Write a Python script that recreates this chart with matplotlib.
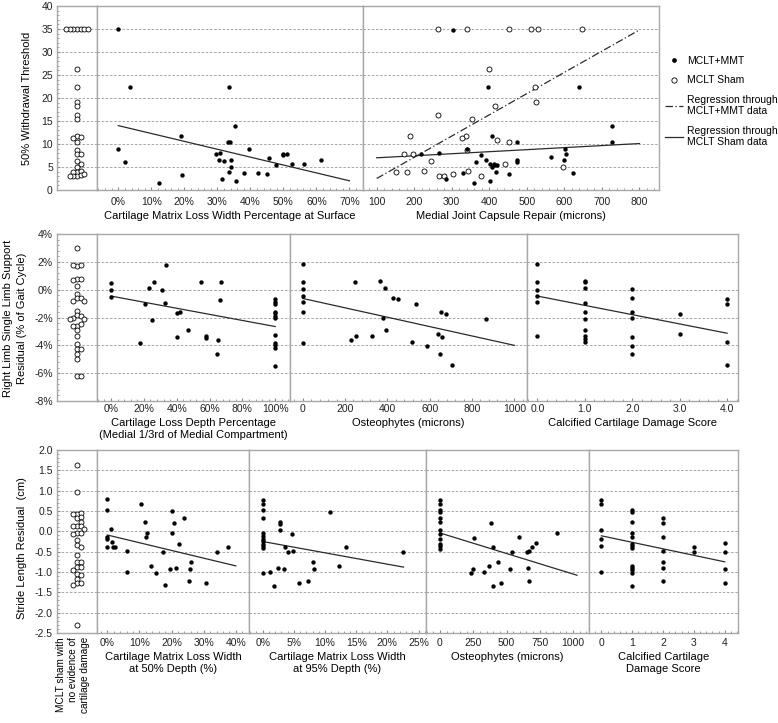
import matplotlib
matplotlib.use('Agg')
import matplotlib.pyplot as plt
from matplotlib.lines import Line2D
from matplotlib.ticker import FuncFormatter, MultipleLocator, AutoMinorLocator

plt.rcParams['font.family'] = ['Liberation Sans', 'DejaVu Sans']
plt.rcParams['font.size'] = 7.5

W, H = 778, 723

# ---------------- data: 50% withdrawal threshold ----------------
wd_sham = [35, 35, 35, 35, 35, 35, 35, 26.3, 22.4, 19.1, 18.3, 16.4, 15.4, 11.7, 11.6,
           11.3, 10.5, 8.6, 7.8, 7.8, 6.2, 5.6, 5.1, 4.0, 4.2, 4.0, 3.0, 3.3, 3.5, 3.1, 3.0]

surf_x = [0, 3.5, 33.6, 35.3, 18.9, 33.1, 33.9, 0, 39.5, 1.9, 29.7, 30.7, 30.5, 31.9, 34.0, 34.2,
          33.6, 31.5, 35.7, 38.2, 42.2, 45.0, 45.6, 47.9, 50.0, 50.0, 51.0, 52.6, 56.3, 61.5, 12.2, 19.4]
surf_y = [35, 22.4, 22.4, 14.0, 11.7, 10.5, 10.5, 9.0, 9.0, 6.0, 7.8, 8.0, 6.6, 6.2, 6.6, 5.1,
          3.9, 2.4, 2.0, 3.8, 3.8, 3.5, 7.0, 5.4, 7.8, 7.6, 7.8, 5.6, 5.6, 6.6, 1.5, 3.2]
surf_fit_x = [0, 70]
surf_fit_y = [14.0, 2.0]

cap_mmt_x = [302, 396, 640, 727, 727, 406, 475, 340, 219, 266, 377, 365, 390, 402, 412, 415,
             421, 408, 475, 475, 564, 601, 603, 599, 624, 453, 418, 331, 284, 358, 402]
cap_mmt_y = [34.8, 22.4, 22.4, 14.0, 10.5, 11.7, 10.5, 9.0, 7.8, 8.0, 7.6, 6.1, 6.6, 5.6, 5.6, 5.4,
             5.4, 5.1, 6.5, 6.0, 7.1, 9.0, 7.8, 6.6, 3.8, 3.5, 3.9, 3.8, 2.4, 1.5, 2.0]
cap_sham_x = [264, 340, 453, 510, 531, 647, 399, 523, 524, 416, 262, 353, 189, 337, 328, 421,
              453, 340, 174, 198, 244, 443, 597, 151, 182, 226, 342, 302, 265, 279, 377]
cap_sham_y = [35, 35, 35, 35, 35, 35, 26.3, 22.4, 19.1, 18.3, 16.4, 15.4, 11.7, 11.7, 11.3, 10.9,
              10.5, 8.6, 7.8, 7.8, 6.2, 5.6, 5.1, 3.9, 3.9, 4.2, 4.2, 3.5, 3.0, 3.0, 3.1]
cap_fit_x = [100, 800]
cap_fit_mmt_y = [2.5, 34.8]
cap_fit_sham_y = [7.0, 10.1]

# ---------------- data: single limb support residual (%) ----------------
sls_sham = [3.0, 1.7, 1.8, 1.8, 0.8, 0.8, 0.7, 0.27, -0.3, -0.6, -0.6, -0.8, -0.85, -1.5, -1.85,
            -1.9, -2.05, -2.1, -2.1, -2.6, -2.5, -2.6, -2.9, -3.35, -3.9, -4.25, -4.25, -4.6, -5.0,
            -6.2, -6.2]

depth_x = [0, 0, 0, 17.9, 20.5, 23.4, 25, 26.4, 30.9, 32.7, 33.5, 40.4, 42.3, 40.2, 46.7, 54.7,
           57.7, 57.7, 65.2, 64.8, 66.7, 66.5,
           100, 100, 100, 100, 100, 100, 100, 100, 100, 100, 100, 100]
depth_y = [0.5, 0.0, -0.53, -3.85, -1.0, 0.1, -2.15, 0.58, 0.0, -0.95, 1.75, -1.7, -1.6, -3.4,
           -2.9, 0.58, -3.35, -3.45, -3.65, -4.65, 0.53, -0.75,
           -0.7, -0.87, -1.04, -1.6, -1.7, -1.9, -2.07, -3.25, -3.8, -4.0, -4.17, -5.45]
depth_fit_x = [0, 100]
depth_fit_y = [-0.46, -2.65]

ost_x = [0, 0, 0, 0, 0, 0, 0, 228, 252, 247, 329, 365, 378, 391, 394, 427, 452, 515, 534, 586,
         639, 652, 660, 649, 677, 707, 865]
ost_y = [1.83, 0.58, 0.05, -0.46, -0.9, -1.6, -3.83, -3.6, -3.3, 0.53, -3.3, 0.65, -2.0, 0.12,
         -2.87, -0.63, -0.67, -3.78, -1.06, -4.07, -3.18, -1.6, -3.37, -4.63, -1.73, -5.42, -2.12]
ost_fit_x = [0, 1000]
ost_fit_y = [-0.63, -4.0]

calc_x = [0, 0, 0, 0, 0, 0, 1, 1, 1, 1, 1, 1, 1, 1, 1, 1, 2, 2, 2, 2, 2, 2, 2, 3, 3, 4, 4, 4, 4]
calc_y = [1.83, 0.58, 0.0, -0.46, -0.89, -3.35, 0.65, 0.53, 0.12, -0.94, -1.59, -2.14, -2.87,
          -3.35, -3.57, -3.78, 0.07, -0.63, -1.59, -2.0, -3.4, -4.07, -4.63, -1.73, -3.18,
          -0.67, -1.06, -3.78, -5.42]
calc_fit_x = [0, 4]
calc_fit_y = [-0.46, -3.13]

# ---------------- data: stride length residual (cm) ----------------
sl_sham = [1.63, 0.97, 0.43, 0.46, 0.43, 0.32, 0.35, 0.24, 0.12, 0.12, 0.12, 0.06, -0.05, -0.03,
           -0.07, -0.21, -0.34, -0.39, -0.57, -0.75, -0.76, -0.87, -0.87, -0.95, -1.06, -1.07,
           -1.16, -1.27, -1.27, -1.32, -2.3]

d50_x = [0, 0, 0, 0, 0, 1.1, 1.5, 1.9, 2.3, 6.1, 6.1, 10.5, 11.8, 12.3, 12.1, 13.5, 15.3, 17.4,
         17.9, 20.0, 20.2, 20.7, 19.6, 21.4, 22.2, 23.9, 25.4, 25.7, 26.0, 30.8, 34.0, 37.5]
d50_y = [0.79, 0.53, -0.13, -0.19, -0.39, 0.05, -0.27, -0.38, -0.39, -0.48, -0.99, 0.67, 0.24,
         -0.03, -0.15, -0.85, -1.03, -0.52, -1.33, 0.5, -0.03, 0.21, -0.92, -0.9, -0.31, 0.34,
         -1.22, -0.92, -0.76, -1.27, -0.52, -0.38]
d50_fit_x = [0, 40]
d50_fit_y = [-0.09, -0.85]

d95_x = [0, 0, 0, 0, 0, 0, 0, 0, 0, 0, 0, 0, 1.2, 1.8, 2.5, 2.7, 2.7, 2.8, 3.4, 3.6, 4.0, 4.7,
         4.8, 5.9, 7.2, 8.0, 8.2, 10.8, 12.2, 13.4, 22.5]
d95_y = [0.78, 0.68, 0.52, 0.33, -0.04, -0.12, -0.18, -0.25, -0.31, -0.37, -0.41, -1.03, -1.01,
         -1.34, -0.9, 0.22, 0.18, 0.03, -0.93, -0.39, -0.52, -0.07, -0.49, -1.27, -1.22, -0.76,
         -0.93, 0.48, -0.86, -0.39, -0.52]
d95_fit_x = [0, 22.6]
d95_fit_y = [-0.25, -0.88]

ost2_x = [0, 0, 0, 0, 0, 0, 0, 0, 0, 0, 0, 0, 231, 251, 254, 332, 372, 384, 402, 400, 435, 462,
          523, 545, 596, 651, 658, 668, 671, 691, 721, 880]
ost2_y = [0.78, 0.66, 0.52, 0.48, 0.34, 0.22, 0.04, -0.06, -0.2, -0.31, -0.37, -0.43, -1.03,
          -0.93, -0.17, -1.01, -0.86, 0.2, -0.39, -1.34, -0.76, -1.27, -0.93, -0.52, -0.13,
          -0.52, -0.9, -0.48, -1.22, -0.39, -0.29, -0.05]
ost2_fit_x = [0, 1030]
ost2_fit_y = [-0.04, -1.08]

calc2_x = [0, 0, 0, 0, 0, 0, 1, 1, 1, 1, 1, 1, 1, 1, 1, 1, 1, 1, 1, 2, 2, 2, 2, 2, 2, 2, 3, 3,
           4, 4, 4, 4]
calc2_y = [0.78, 0.66, 0.04, -0.2, -0.37, -1.01, 0.52, 0.48, 0.22, -0.04, -0.13, -0.31, -0.37,
           -0.41, -0.86, -0.9, -0.95, -1.03, -1.34, 0.34, 0.2, -0.13, -0.48, -0.76, -0.9, -1.22,
           -0.39, -0.52, -0.29, -0.52, -0.93, -1.27]
calc2_fit_x = [0, 4]
calc2_fit_y = [-0.11, -0.75]

# ---------------- helpers ----------------
GRID = '#9a9a9a'
EDGE = '#a8a8a8'
LINE = '#2b2b2b'
FS_LAB = 8

pct = FuncFormatter(lambda v, p: f'{v:.0f}%')
intf = FuncFormatter(lambda v, p: f'{v:.0f}')
one = FuncFormatter(lambda v, p: f'{v:.1f}')

fig = plt.figure(figsize=(W / 100, H / 100), dpi=100)


def px_axes(x0, x1, y0, y1):
    return fig.add_axes([x0 / W, 1 - y1 / H, (x1 - x0) / W, (y1 - y0) / H])


def base(ax, ylim, ystep):
    ax.set_ylim(ylim)
    ax.yaxis.set_major_locator(MultipleLocator(ystep))
    ax.grid(axis='y', color=GRID, ls=(0, (3, 2)), lw=0.6)
    ax.set_axisbelow(True)
    for s in ax.spines.values():
        s.set_color(EDGE)
        s.set_linewidth(1.0)
    ax.tick_params(which='both', direction='in', color='#888888', labelsize=7.5, labelcolor='#222222')
    ax.tick_params(which='major', length=2.5)
    ax.tick_params(which='minor', length=1.5)


def swarm(vals, h_px, ylim, step=3.6, px_per_unit=20.0):
    # simple beeswarm: push each circle sideways until it no longer overlaps
    ppu = h_px / (ylim[1] - ylim[0])
    placed, xs = [], []
    order = [0]
    for i in range(1, 15):
        order += [i, -i]
    for v in vals:
        y = v * ppu
        for k in order:
            x = k * step
            if all((x - a) ** 2 + (y - b) ** 2 >= step ** 2 * 0.95 for a, b in placed):
                break
        placed.append((x, y))
        xs.append(x / px_per_unit)
    return xs


def strip(rows, ylim, ystep, yfmt, vals):
    ax = px_axes(57, 97, *rows)
    base(ax, ylim, ystep)
    ax.set_xlim(-1, 1)
    ax.set_xticks([])
    ax.yaxis.set_major_formatter(yfmt)
    ax.yaxis.set_minor_locator(AutoMinorLocator(5))
    ax.tick_params(axis='y', pad=3)
    xs = swarm(vals, rows[1] - rows[0], ylim)
    ax.scatter(xs, vals, s=13, facecolors='white', edgecolors='black', linewidths=0.6, zorder=3)
    return ax


def panel(x0, x1, rows, ylim, ystep, xlim, xstep, xfmt, xlabel, pad):
    ax = px_axes(x0, x1, *rows)
    base(ax, ylim, ystep)
    ax.set_xlim(xlim)
    ax.xaxis.set_major_locator(MultipleLocator(xstep))
    ax.xaxis.set_minor_locator(AutoMinorLocator(5))
    ax.xaxis.set_major_formatter(xfmt)
    ax.tick_params(axis='y', which='both', left=False, labelleft=False)
    ax.tick_params(axis='x', pad=pad)
    ax.set_xlabel(xlabel, fontsize=FS_LAB, labelpad=3, linespacing=1.3)
    return ax


def dots(ax, x, y):
    ax.scatter(x, y, s=10, color='black', linewidths=0, zorder=3)


def fit(ax, x, y, ls='-'):
    ax.plot(x, y, color=LINE, lw=0.9, ls=ls, zorder=2)


DASHDOT = (0, (6, 2, 1, 2))

# ---------------- row 1 ----------------
r1 = (6, 190)
y1 = (0, 40)
strip(r1, y1, 5, intf, wd_sham)

ax = panel(97, 363, r1, y1, 5, (-6.45, 74.1), 10, pct,
           'Cartilage Matrix Loss Width Percentage at Surface', 5)
dots(ax, surf_x, surf_y)
fit(ax, surf_fit_x, surf_fit_y)

ax = panel(363, 659, r1, y1, 5, (63.5, 852), 100, intf,
           'Medial Joint Capsule Repair (microns)', 5)
ax.scatter(cap_sham_x, cap_sham_y, s=13, facecolors='white', edgecolors='black',
           linewidths=0.6, zorder=3)
dots(ax, cap_mmt_x, cap_mmt_y)
fit(ax, cap_fit_x, cap_fit_mmt_y, DASHDOT)
fit(ax, cap_fit_x, cap_fit_sham_y)

# ---------------- row 2 ----------------
r2 = (234, 401)
y2 = (-8, 4)
strip(r2, y2, 2, pct, sls_sham)

ax = panel(97, 290, r2, y2, 2, (-8.5, 109), 20, pct,
           'Cartilage Loss Depth Percentage\n(Medial 1/3rd of Medial Compartment)', 2)
dots(ax, depth_x, depth_y)
fit(ax, depth_fit_x, depth_fit_y)

ax = panel(290, 527, r2, y2, 2, (-60, 1060), 200, intf, 'Osteophytes (microns)', 2)
dots(ax, ost_x, ost_y)
fit(ax, ost_fit_x, ost_fit_y)

ax = panel(527, 738, r2, y2, 2, (-0.22, 4.23), 1, one, 'Calcified Cartilage Damage Score', 2)
dots(ax, calc_x, calc_y)
fit(ax, calc_fit_x, calc_fit_y)

# ---------------- row 3 ----------------
r3 = (450, 633)
y3 = (-2.5, 2.0)
strip(r3, y3, 0.5, one, sl_sham)

ax = panel(97, 249, r3, y3, 0.5, (-3.2, 44.1), 10, pct,
           'Cartilage Matrix Loss Width\nat 50% Depth (%)', 3.5)
dots(ax, d50_x, d50_y)
fit(ax, d50_fit_x, d50_fit_y)

ax = panel(249, 426, r3, y3, 0.5, (-2.2, 26.2), 5, pct,
           'Cartilage Matrix Loss Width\nat 95% Depth (%)', 3.5)
dots(ax, d95_x, d95_y)
fit(ax, d95_fit_x, d95_fit_y)

ax = panel(426, 589, r3, y3, 0.5, (-105, 1120), 250, intf, 'Osteophytes (microns)', 3.5)
dots(ax, ost2_x, ost2_y)
fit(ax, ost2_fit_x, ost2_fit_y)

ax = panel(589, 738, r3, y3, 0.5, (-0.4, 4.43), 1, intf,
           'Calcified Cartilage\nDamage Score', 3.5)
dots(ax, calc2_x, calc2_y)
fit(ax, calc2_fit_x, calc2_fit_y)

# ---------------- labels ----------------
fig.text(27 / W, 1 - 98 / H, '50% Withdrawal Threshold', rotation=90,
         ha='center', va='center', fontsize=FS_LAB)
fig.text(15 / W, 1 - 318 / H, 'Right Limb Single Limb Support\nResidual (% of Gait Cycle)',
         rotation=90, ha='center', va='center', multialignment='center',
         fontsize=FS_LAB, linespacing=1.4)
fig.text(22 / W, 1 - 548 / H, 'Stride Length Residual  (cm)', rotation=90,
         ha='center', va='center', fontsize=FS_LAB)
fig.text(73 / W, 1 - 637 / H, 'MCLT sham with\nno evidence of\ncartilage damage', rotation=90,
         ha='center', va='top', multialignment='right', fontsize=7.2, linespacing=1.2)

handles = [Line2D([], [], ls='none', marker='o', ms=3.4, mfc='black', mec='black', mew=0),
           Line2D([], [], ls='none', marker='o', ms=3.8, mfc='white', mec='black', mew=0.6),
           Line2D([], [], color=LINE, lw=0.9, ls=DASHDOT),
           Line2D([], [], color=LINE, lw=0.9)]
labels = ['MCLT+MMT', 'MCLT Sham', 'Regression through\nMCLT+MMT data',
          'Regression through\nMCLT Sham data']
fig.legend(handles, labels, loc='upper left', bbox_to_anchor=(665 / W, 1 - 56 / H),
           frameon=False, fontsize=7.5, handlelength=1.75, handletextpad=0.4,
           labelspacing=0.9, borderpad=0, borderaxespad=0)

fig.savefig('out.png', dpi=100)
